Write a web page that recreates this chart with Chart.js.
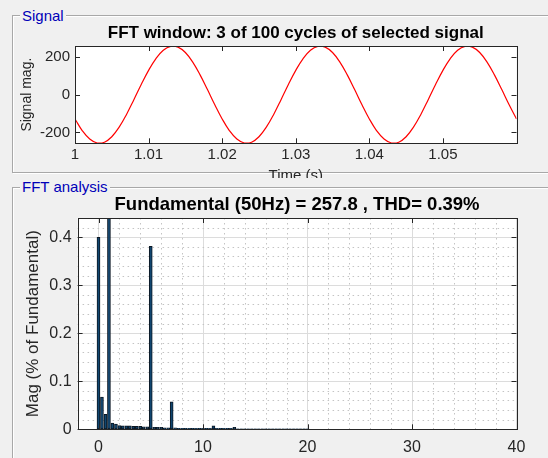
<!DOCTYPE html>
<html>
<head>
<meta charset="utf-8">
<script src="https://cdn.jsdelivr.net/npm/chart.js@4.4.0/dist/chart.umd.min.js"></script>
<style>
  html, body { margin: 0; padding: 0; background: #f0f0f0; }
  body { width: 548px; height: 458px; position: relative; overflow: hidden; font-family: "Liberation Sans", Arial, sans-serif; }
  .panel { position: absolute; left: 0; width: 548px; background: #f0f0f0; overflow: hidden; }
  .box { position: absolute; left: 12px; right: -10px; border: 1px solid #a8a8a8; box-shadow: inset 1px 1px 0 #fff, 1px 1px 0 #fff; }
  .legend { position: absolute; left: 20px; padding: 0 2px; background: #f0f0f0; color: #0000b8; font-size: 15px; line-height: 16px; }
  canvas { position: absolute; left: 0; top: 0; }
</style>
</head>
<body>
<div class="panel" style="top:0; height:178px;">
  <div class="box" style="top:15px; height:156px;"></div>
  <div class="legend" style="top:8px;">Signal</div>
  <canvas id="signalChart" width="548" height="200"></canvas>
</div>
<div class="panel" style="top:178px; height:280px;">
  <div class="box" style="top:9px; height:300px;"></div>
  <div class="legend" style="top:1px;">FFT analysis</div>
  <canvas id="fftChart" width="548" height="280"></canvas>
</div>
<script>
// Signal window (3 cycles, 1 ms samples)
var timeS = [
  1.000, 1.001, 1.002, 1.003, 1.004, 1.005, 1.006, 1.007, 1.008, 1.009,
  1.010, 1.011, 1.012, 1.013, 1.014, 1.015, 1.016, 1.017, 1.018, 1.019,
  1.020, 1.021, 1.022, 1.023, 1.024, 1.025, 1.026, 1.027, 1.028, 1.029,
  1.030, 1.031, 1.032, 1.033, 1.034, 1.035, 1.036, 1.037, 1.038, 1.039,
  1.040, 1.041, 1.042, 1.043, 1.044, 1.045, 1.046, 1.047, 1.048, 1.049,
  1.050, 1.051, 1.052, 1.053, 1.054, 1.055, 1.056, 1.057, 1.058, 1.059,
  1.060
];
var signalMag = [
  -128.9, -191.6, -235.5, -256.4, -252.2, -223.3, -172.5, -104.9, -26.9, 53.6,
  128.9, 191.6, 235.5, 256.4, 252.2, 223.3, 172.5, 104.9, 26.9, -53.6,
  -128.9, -191.6, -235.5, -256.4, -252.2, -223.3, -172.5, -104.9, -26.9, 53.6,
  128.9, 191.6, 235.5, 256.4, 252.2, 223.3, 172.5, 104.9, 26.9, -53.6,
  -128.9, -191.6, -235.5, -256.4, -252.2, -223.3, -172.5, -104.9, -26.9, 53.6,
  128.9, 191.6, 235.5, 256.4, 252.2, 223.3, 172.5, 104.9, 26.9, -53.6,
  -128.9
];
var timeTicks = [1, 1.01, 1.02, 1.03, 1.04, 1.05];
var signalTicks = [-200, 0, 200];

// FFT spectrum (harmonic order, magnitude in % of fundamental)
var harmonicOrder = [
  0, 0.33, 0.67, 1, 1.33, 1.67, 2, 2.33, 2.67, 3,
  3.33, 3.67, 4, 4.33, 4.67, 5, 5.33, 5.67, 6, 6.33,
  6.67, 7, 7.33, 7.67, 8, 8.33, 8.67, 9, 9.33, 9.67,
  10, 10.33, 10.67, 11, 11.33, 11.67, 12, 12.33, 12.67, 13,
  13.33, 13.67, 14, 14.33, 14.67, 15, 15.33, 15.67, 16, 16.33,
  16.67, 17, 17.33, 17.67, 18, 18.33, 18.67, 19, 19.33, 19.67,
  20
];
var magPct = [
  0.400, 0.067, 0.031, 100, 0.013, 0.011, 0.008, 0.007, 0.007, 0.007,
  0.006, 0.006, 0.006, 0.005, 0.005, 0.381, 0.004, 0.004, 0.004, 0.003,
  0.003, 0.057, 0.003, 0.002, 0.002, 0.002, 0.002, 0.002, 0.002, 0.002,
  0.002, 0.002, 0.002, 0.007, 0.002, 0.002, 0.002, 0.002, 0.002, 0.004,
  0.001, 0.001, 0.001, 0.001, 0.001, 0.001, 0.001, 0.001, 0.001, 0.001,
  0.001, 0.001, 0.001, 0.001, 0.001, 0.001, 0.001, 0.001, 0.001, 0.001,
  0.001
];
var orderTicks = [0, 10, 20, 30, 40];
var magTicks = [0, 0.1, 0.2, 0.3, 0.4];
var orderMinor = [2, 4, 6, 8, 12, 14, 16, 18, 22, 24, 26, 28, 32, 34, 36, 38];
var magMinor = [0.02, 0.04, 0.06, 0.08, 0.12, 0.14, 0.16, 0.18, 0.22, 0.24, 0.26, 0.28, 0.32, 0.34, 0.36, 0.38, 0.42];

Chart.defaults.font.family = '"Liberation Sans", Arial, sans-serif';
Chart.defaults.color = '#262626';

// white axes background, dotted minor grid, inward ticks and full box
var matlabAxes = {
    id: 'matlabAxes',
    beforeDraw: function (chart) {
        var a = chart.chartArea, ctx = chart.ctx;
        ctx.save();
        ctx.fillStyle = '#ffffff';
        ctx.fillRect(a.left, a.top, a.right - a.left, a.bottom - a.top);
        ctx.restore();
    },
    beforeDatasetsDraw: function (chart, args, opts) {
        if (!opts.minorX) return;
        var a = chart.chartArea, ctx = chart.ctx;
        var x = chart.scales.x, y = chart.scales.y;
        ctx.save();
        ctx.strokeStyle = '#c4c4c4';
        ctx.lineWidth = 1;
        ctx.setLineDash([1.5, 3.5]);
        ctx.beginPath();
        opts.minorX.forEach(function (v) {
            var px = Math.round(x.getPixelForValue(v)) + 0.5;
            ctx.moveTo(px, a.top); ctx.lineTo(px, a.bottom);
        });
        opts.minorY.forEach(function (v) {
            var py = Math.round(y.getPixelForValue(v)) + 0.5;
            ctx.moveTo(a.left, py); ctx.lineTo(a.right, py);
        });
        ctx.stroke();
        ctx.restore();
    },
    afterDatasetsDraw: function (chart) {
        var a = chart.chartArea, ctx = chart.ctx;
        var x = chart.scales.x, y = chart.scales.y;
        var len = 5;
        ctx.save();
        ctx.strokeStyle = '#262626';
        ctx.lineWidth = 1;
        ctx.beginPath();
        x.ticks.forEach(function (t) {
            var px = Math.round(x.getPixelForValue(t.value)) + 0.5;
            ctx.moveTo(px, a.bottom); ctx.lineTo(px, a.bottom - len);
            ctx.moveTo(px, a.top); ctx.lineTo(px, a.top + len);
        });
        y.ticks.forEach(function (t) {
            var py = Math.round(y.getPixelForValue(t.value)) + 0.5;
            ctx.moveTo(a.left, py); ctx.lineTo(a.left + len, py);
            ctx.moveTo(a.right, py); ctx.lineTo(a.right - len, py);
        });
        ctx.stroke();
        ctx.strokeRect(Math.round(a.left) + 0.5, Math.round(a.top) + 0.5,
            Math.round(a.right - a.left), Math.round(a.bottom - a.top));
        ctx.restore();
    }
};

function fixedTicks(values) {
    return function (scale) {
        scale.ticks = values.map(function (v) { return { value: v }; });
    };
}

// Signal chart
var signalPoints = timeS.map(function (t, i) { return { x: t, y: signalMag[i] }; });

new Chart(document.getElementById('signalChart'), {
    type: 'line',
    data: {
        datasets: [{
            data: signalPoints,
            borderColor: '#ff0000',
            borderWidth: 1.2,
            pointRadius: 0,
            tension: 0.4
        }]
    },
    options: {
        responsive: false,
        animation: false,
        layout: { padding: { top: 22.8, left: 0, right: 31.5, bottom: 0 } },
        plugins: {
            legend: { display: false },
            tooltip: { enabled: false },
            title: {
                display: true,
                fullSize: false,
                text: 'FFT window: 3 of 100 cycles of selected signal',
                color: '#000000',
                font: { size: 17, weight: 'bold', lineHeight: 1.2 },
                padding: { top: 0, bottom: 2.8 }
            }
        },
        scales: {
            x: {
                type: 'linear',
                min: 1,
                max: 1.06,
                afterBuildTicks: fixedTicks(timeTicks),
                afterFit: function (scale) { scale.height = 56.7; },
                grid: { display: false, drawTicks: false },
                border: { display: false },
                ticks: {
                    font: { size: 15 },
                    padding: 3,
                    maxRotation: 0,
                    callback: function (v) { return String(v); }
                },
                title: {
                    display: true,
                    text: 'Time (s)',
                    font: { size: 15 },
                    padding: { top: 0, bottom: 15 }
                }
            },
            y: {
                min: -258,
                max: 258,
                afterBuildTicks: fixedTicks(signalTicks),
                afterFit: function (scale) { scale.width = 75; },
                grid: { display: false, drawTicks: false },
                border: { display: false },
                ticks: { font: { size: 15 }, padding: 5 },
                title: {
                    display: true,
                    text: 'Signal mag.',
                    font: { size: 14 },
                    padding: { top: 19, bottom: 0 }
                }
            }
        }
    },
    plugins: [matlabAxes]
});

// FFT chart
var fftPoints = harmonicOrder.map(function (h, i) { return { x: h, y: magPct[i] }; });

new Chart(document.getElementById('fftChart'), {
    type: 'bar',
    data: {
        datasets: [{
            data: fftPoints,
            backgroundColor: '#114670',
            borderColor: '#0b1723',
            borderWidth: 1,
            barThickness: 3,
            borderSkipped: false
        }]
    },
    options: {
        responsive: false,
        animation: false,
        layout: { padding: { top: 15.9, left: 0, right: 31.5, bottom: 0 } },
        plugins: {
            legend: { display: false },
            tooltip: { enabled: false },
            title: {
                display: true,
                fullSize: false,
                text: 'Fundamental (50Hz) = 257.8 , THD= 0.39%',
                color: '#000000',
                font: { size: 18.5, weight: 'bold', lineHeight: 1.2 },
                padding: { top: 0, bottom: 1.9 }
            },
            matlabAxes: { minorX: orderMinor, minorY: magMinor }
        },
        scales: {
            x: {
                type: 'linear',
                min: -2,
                max: 40,
                offset: false,
                afterBuildTicks: fixedTicks(orderTicks),
                afterFit: function (scale) { scale.height = 28.7; },
                grid: { color: '#dcdcdc', drawTicks: false, offset: false },
                border: { display: false },
                ticks: { font: { size: 16 }, padding: 9, maxRotation: 0 }
            },
            y: {
                min: 0,
                max: 0.44,
                afterBuildTicks: fixedTicks(magTicks),
                afterFit: function (scale) { scale.width = 77.6; },
                grid: { color: '#dcdcdc', drawTicks: false },
                border: { display: false },
                ticks: { font: { size: 16 }, padding: 6 },
                title: {
                    display: true,
                    text: 'Mag (% of Fundamental)',
                    font: { size: 17 },
                    padding: { top: 23.1, bottom: 0 }
                }
            }
        }
    },
    plugins: [matlabAxes]
});
</script>
</body>
</html>
